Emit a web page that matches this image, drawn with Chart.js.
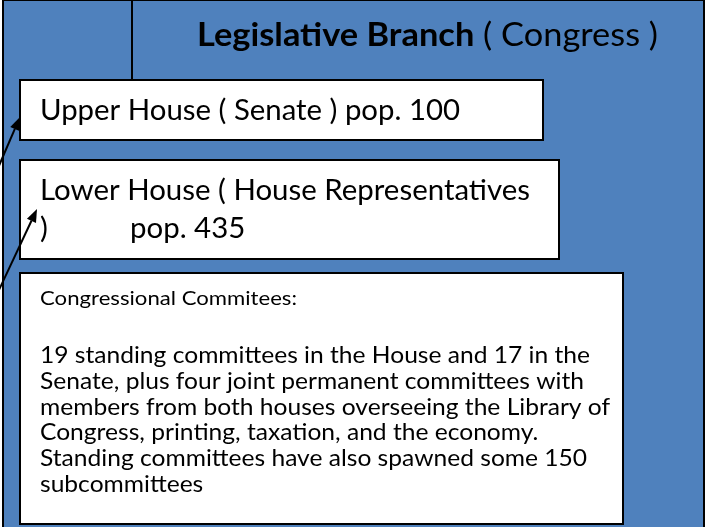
<!DOCTYPE html>
<html>
<head>
<meta charset="utf-8">
<script src="https://cdn.jsdelivr.net/npm/chart.js@4"></script>
<style>
  body { margin: 0; background: #fff; }
  canvas { display: block; }
</style>
</head>
<body>
<canvas id="myChart" width="712" height="527"></canvas>
<script>
// text content
const titleBold = "Legislative Branch";
const titlePlain = " ( Congress )";
const upperLines = ["Upper House ( Senate ) pop. 100"];
const lowerLines = ["Lower House ( House Representatives", ")          pop. 435"];
const committeeHeader = "Congressional Commitees:";
const committeeLines = [
  "19 standing committees in the House and 17 in the",
  "Senate, plus four joint permanent committees with",
  "members from both houses overseeing the Library of",
  "Congress, printing, taxation, and the economy.",
  "Standing committees have also spawned some 150",
  "subcommittees"
];

// diagram boxes (in diagram units, 712 x 527 grid)
const boxNames = ["branch", "upper", "lower", "committees"];
const boxX0 = [3, 20, 20, 20];
const boxX1 = [704, 543, 559, 623];
const boxY0 = [0, 80, 160, 273];
const boxY1 = [540, 140, 259, 524];

// connector lines: [x0, y0, x1, y1]
const dividerLine = [132, 0, 132, 80];
const arrowFrom = [[-2, 168], [-2, 292]];
const arrowTo = [[20, 117], [37, 209]];

const BLUE = "#4f81bd";
const FONT = "Lato, 'Open Sans', sans-serif";

// Calibri is narrower than Lato, so text is squeezed horizontally
// until the block's reference line has the measured width
function squeeze(ctx, refText, weight, size, width) {
  ctx.font = weight + " " + size + "px " + FONT;
  return width / ctx.measureText(refText).width;
}
function drawText(ctx, text, x, y, weight, size, sx) {
  ctx.save();
  ctx.font = weight + " " + size + "px " + FONT;
  ctx.translate(x, y);
  ctx.scale(sx, 1);
  ctx.fillText(text, 0, 0);
  ctx.restore();
}

const diagramPlugin = {
  id: "diagram",
  beforeDatasetsDraw(chart) {
    const ctx = chart.ctx;
    const xs = chart.scales.x, ys = chart.scales.y;
    const px = v => xs.getPixelForValue(v);
    const py = v => ys.getPixelForValue(v);
    ctx.save();

    // boxes
    boxNames.forEach((n, i) => {
      const x = px(boxX0[i]), y = py(boxY0[i]);
      const w = px(boxX1[i]) - x, h = py(boxY1[i]) - y;
      ctx.fillStyle = i === 0 ? BLUE : "#ffffff";
      ctx.fillRect(x, y, w, h);
      ctx.lineWidth = 2;
      ctx.strokeStyle = "#000";
      ctx.strokeRect(x, y, w, h);
      if (i === 0) {
        ctx.beginPath();
        ctx.moveTo(px(dividerLine[0]), py(dividerLine[1]));
        ctx.lineTo(px(dividerLine[2]), py(dividerLine[3]));
        ctx.stroke();
      }
    });

    // arrows
    arrowFrom.forEach((f, i) => {
      const t = arrowTo[i];
      const x0 = px(f[0]), y0 = py(f[1]), x1 = px(t[0]), y1 = py(t[1]);
      const a = Math.atan2(y1 - y0, x1 - x0);
      const len = 13, wid = 5;
      const bx = x1 - len * Math.cos(a), by = y1 - len * Math.sin(a);
      ctx.beginPath();
      ctx.moveTo(x0, y0);
      ctx.lineTo(bx, by);
      ctx.lineWidth = 2;
      ctx.strokeStyle = "#000";
      ctx.stroke();
      ctx.beginPath();
      ctx.moveTo(x1, y1);
      ctx.lineTo(bx + wid * Math.sin(a), by - wid * Math.cos(a));
      ctx.lineTo(bx - wid * Math.sin(a), by + wid * Math.cos(a));
      ctx.closePath();
      ctx.fillStyle = "#000";
      ctx.fill();
    });

    // texts
    ctx.fillStyle = "#000";
    ctx.textBaseline = "alphabetic";
    ctx.textAlign = "left";

    // title
    let size = 33;
    ctx.font = "bold " + size + "px " + FONT;
    const bw = ctx.measureText(titleBold).width;
    ctx.font = "normal " + size + "px " + FONT;
    const pw = ctx.measureText(titlePlain).width;
    let sx = 461 / (bw + pw);
    drawText(ctx, titleBold, px(197), py(46), "bold", size, sx);
    drawText(ctx, titlePlain, px(197) + bw * sx, py(46), "normal", size, sx);

    // upper house
    size = 28;
    sx = squeeze(ctx, upperLines[0], "normal", size, 420);
    drawText(ctx, upperLines[0], px(40), py(120), "normal", size, sx);

    // lower house
    sx = squeeze(ctx, lowerLines[0], "normal", size, 490);
    drawText(ctx, lowerLines[0], px(40), py(200), "normal", size, sx);
    drawText(ctx, lowerLines[1].slice(0, 1), px(40), py(238), "normal", size, sx);
    drawText(ctx, lowerLines[1].slice(1).trim(), px(130), py(238), "normal", size, sx);

    // committees
    size = 19;
    sx = squeeze(ctx, committeeHeader, "normal", size, 257);
    drawText(ctx, committeeHeader, px(40), py(305), "normal", size, sx);
    size = 22.5;
    sx = squeeze(ctx, committeeLines[0], "normal", size, 550);
    committeeLines.forEach((l, i) => {
      drawText(ctx, l, px(40), py(363 + i * 25.8), "normal", size, sx);
    });

    ctx.restore();
  }
};

new Chart(document.getElementById("myChart"), {
  type: "scatter",
  data: { datasets: [] },
  options: {
    responsive: false,
    animation: false,
    layout: { padding: 0 },
    plugins: { legend: { display: false }, tooltip: { enabled: false } },
    scales: {
      x: { type: "linear", min: 0, max: 712, display: false },
      y: { type: "linear", min: 0, max: 527, reverse: true, display: false }
    }
  },
  plugins: [diagramPlugin]
});
</script>
</body>
</html>
